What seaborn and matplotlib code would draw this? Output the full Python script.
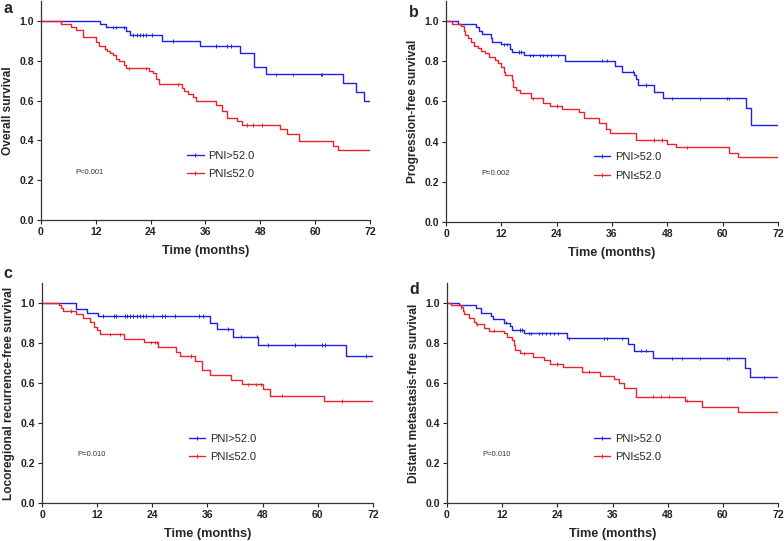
import numpy as np
import pandas as pd
import matplotlib
matplotlib.use("Agg")
import matplotlib.pyplot as plt
from matplotlib.lines import Line2D
import seaborn as sns

sns.set_style("ticks")
plt.rcParams['font.family'] = ['Liberation Sans', 'DejaVu Sans']

# ---------------- data ----------------
panel_letters = ["a", "b", "c", "d"]
ylabels = ["Overall survival", "Progression-free survival",
           "Locoregional recurrence-free survival", "Distant metastasis-free survival"]
pvalues = ["P<0.001", "P=0.002", "P=0.010", "P=0.010"]
group_labels = ["PNI>52.0", "PNI\u226452.0"]
xticks = [0, 12, 24, 36, 48, 60, 72]
yticks = [0.0, 0.2, 0.4, 0.6, 0.8, 1.0]

# Panel a: overall survival
a_hi_t = [0, 13, 14.2, 18.5, 19.5, 26.4, 34.8, 43.5, 46.7, 49.2, 66, 69, 70.6, 72]
a_hi_s = [1.0, 0.983, 0.967, 0.95, 0.93, 0.90, 0.873, 0.838, 0.769, 0.732, 0.686, 0.642, 0.597, 0.597]
a_hi_cens = [15.7, 16.4, 18.2, 20.2, 21.0, 21.7, 22.3, 23.0, 24.3, 28.9, 38.3, 40.6, 41.6,
             51.4, 55.1, 61.3, 61.6, 72]
a_lo_t = [0, 4.4, 6.6, 7.6, 9.2, 12.1, 12.6, 13.9, 14.5, 15.0, 15.8, 16.5, 17.0, 18.1, 18.7,
          23.7, 24.5, 25.1, 25.9, 30.8, 31.3, 32.2, 33.2, 34.0, 38.2, 39.6, 40.6, 42.8, 43.9,
          52.3, 53.9, 56.5, 63.8, 65.1, 72]
a_lo_s = [1.0, 0.985, 0.97, 0.955, 0.92, 0.895, 0.875, 0.86, 0.85, 0.84, 0.828, 0.81, 0.798,
          0.778, 0.762, 0.75, 0.736, 0.71, 0.681, 0.665, 0.65, 0.635, 0.62, 0.597, 0.578, 0.545,
          0.511, 0.498, 0.477, 0.458, 0.432, 0.397, 0.373, 0.352, 0.352]
a_lo_cens = [14.0, 19.3, 23.0, 30.0, 45.0, 46.4, 48.3, 72]

# Panel b: progression-free survival
b_hi_t = [0, 2.7, 6.6, 7.2, 7.7, 9.7, 10.0, 11.9, 13.9, 14.3, 16.9, 25.9, 36.6, 38.2, 40.8,
          41.2, 41.6, 45.0, 47.1, 65.0, 66.1, 72]
b_hi_s = [1.0, 0.985, 0.972, 0.952, 0.934, 0.918, 0.898, 0.884, 0.862, 0.846, 0.83, 0.803,
          0.778, 0.748, 0.73, 0.71, 0.682, 0.648, 0.615, 0.567, 0.482, 0.482]
b_hi_cens = [12.6, 13.2, 15.8, 16.3, 18.2, 18.9, 20.4, 21.0, 21.9, 22.8, 24.3, 33.8, 34.9,
             40.5, 43.4, 49.0, 55.1, 60.9, 61.4]
b_lo_t = [0, 1.2, 3.2, 3.8, 4.1, 4.8, 5.4, 6.1, 7.0, 7.5, 8.4, 9.3, 10.6, 11.3, 11.9, 12.6,
          12.9, 14.4, 14.6, 15.1, 16.0, 18.4, 21.1, 22.6, 25.2, 28.9, 29.9, 33.2, 34.6, 35.5,
          41.3, 47.9, 49.8, 61.4, 63.4, 72]
b_lo_s = [1.0, 0.988, 0.975, 0.952, 0.93, 0.914, 0.897, 0.876, 0.864, 0.852, 0.842, 0.822,
          0.806, 0.79, 0.77, 0.748, 0.731, 0.706, 0.673, 0.657, 0.643, 0.615, 0.594, 0.577,
          0.562, 0.549, 0.516, 0.494, 0.465, 0.443, 0.408, 0.388, 0.371, 0.345, 0.325, 0.325]
b_lo_cens = [18.9, 24.1, 45.1, 46.9, 52.3, 72]

# Panel c: locoregional recurrence-free survival
c_hi_t = [0, 7.4, 9.7, 12.2, 36.5, 38.1, 41.6, 47.0, 66.2, 72]
c_hi_s = [1.0, 0.968, 0.952, 0.935, 0.902, 0.87, 0.832, 0.79, 0.735, 0.735]
c_hi_cens = [13.2, 15.7, 16.2, 18.0, 18.5, 19.1, 19.8, 20.6, 21.3, 22.0, 22.6, 24.2, 26.0,
             26.7, 28.9, 34.2, 35.1, 40.5, 43.2, 46.7, 49.2, 55.0, 61.0, 61.5, 70.4]
c_lo_t = [0, 3.7, 4.1, 4.6, 7.4, 9.0, 10.4, 11.3, 12.0, 12.6, 17.8, 22.2, 25.3, 29.1, 30.0,
          33.3, 34.7, 36.5, 41.2, 43.4, 48.0, 49.7, 61.4, 72]
c_lo_s = [1.0, 0.99, 0.973, 0.96, 0.945, 0.923, 0.907, 0.882, 0.865, 0.843, 0.82, 0.803,
          0.778, 0.757, 0.735, 0.712, 0.665, 0.64, 0.615, 0.593, 0.568, 0.537, 0.51, 0.51]
c_lo_cens = [6.2, 14.8, 17.0, 23.8, 24.6, 25.1, 32.5, 44.8, 46.6, 47.7, 52.3, 65.2, 72]

# Panel d: distant metastasis-free survival
d_hi_t = [0, 2.6, 6.4, 7.5, 9.5, 10.1, 12.5, 13.8, 14.2, 16.7, 26.0, 39.3, 40.7, 44.8, 64.9,
          66.0, 72]
d_hi_s = [1.0, 0.99, 0.973, 0.952, 0.935, 0.918, 0.902, 0.885, 0.865, 0.848, 0.823, 0.795,
          0.762, 0.723, 0.673, 0.628, 0.628]
d_hi_cens = [12.8, 15.9, 16.3, 17.8, 18.3, 20.0, 20.7, 21.5, 22.4, 23.3, 24.1, 26.5, 34.1,
             34.8, 38.1, 42.1, 43.2, 49.0, 51.2, 55.0, 60.9, 61.3, 68.9]
d_lo_t = [0, 0.9, 3.0, 3.5, 3.8, 4.8, 5.9, 6.4, 8.0, 9.1, 12.4, 13.1, 14.2, 14.6, 14.9, 15.9,
          18.6, 21.1, 22.4, 25.3, 29.4, 33.3, 36.3, 37.4, 38.6, 41.2, 51.7, 55.4, 63.3, 72]
d_lo_s = [1.0, 0.99, 0.978, 0.962, 0.945, 0.923, 0.907, 0.893, 0.873, 0.862, 0.848, 0.832,
          0.815, 0.79, 0.765, 0.748, 0.732, 0.715, 0.695, 0.682, 0.657, 0.635, 0.618, 0.598,
          0.573, 0.532, 0.512, 0.482, 0.457, 0.457]
d_lo_cens = [3.0, 6.5, 10.2, 16.7, 23.9, 30.9, 44.8, 46.6, 48.3, 52.1, 72]

panels = [
    (a_hi_t, a_hi_s, a_hi_cens, a_lo_t, a_lo_s, a_lo_cens),
    (b_hi_t, b_hi_s, b_hi_cens, b_lo_t, b_lo_s, b_lo_cens),
    (c_hi_t, c_hi_s, c_hi_cens, c_lo_t, c_lo_s, c_lo_cens),
    (d_hi_t, d_hi_s, d_hi_cens, d_lo_t, d_lo_s, d_lo_cens),
]

# ---------------- style ----------------
BLUE = "#2020e6"
RED = "#e8252a"
palette = {group_labels[0]: BLUE, group_labels[1]: RED}

W, H = 784, 541
fig = plt.figure(figsize=(W / 100, H / 100), dpi=100)

# axes boxes in pixels: left, right, bottom (y=0), top (y=1.1)
boxes = [(41, 370, 220, 1), (446, 778, 222, 1), (42, 373, 503, 283), (447, 778, 503, 283)]
letter_pos = [(3, 13), (409, 17), (3, 278), (409, 294)]


def step_value(ts, ss, x):
    idx = np.searchsorted(np.asarray(ts), x, side="right") - 1
    return np.asarray(ss)[idx]


for i, (ht, hs, hc, lt, ls, lc) in enumerate(panels):
    l, r, b, t = boxes[i]
    ax = fig.add_axes([l / W, 1 - b / H, (r - l) / W, (b - t) / H])

    df = pd.concat([
        pd.DataFrame({"time": ht, "surv": hs, "group": group_labels[0]}),
        pd.DataFrame({"time": lt, "surv": ls, "group": group_labels[1]}),
    ], ignore_index=True)
    sns.lineplot(data=df, x="time", y="surv", hue="group", palette=palette,
                 estimator=None, drawstyle="steps-post", linewidth=1.0,
                 legend=False, ax=ax)

    cens = pd.concat([
        pd.DataFrame({"time": hc, "surv": step_value(ht, hs, hc), "group": group_labels[0]}),
        pd.DataFrame({"time": lc, "surv": step_value(lt, ls, lc), "group": group_labels[1]}),
    ], ignore_index=True)
    sns.scatterplot(data=cens, x="time", y="surv", hue="group", palette=palette,
                    marker="|", s=6, linewidth=0.7, legend=False, ax=ax)

    ax.set_xlim(0, 72)
    ax.set_ylim(0, 1.1)
    ax.set_xticks(xticks)
    ax.set_yticks(yticks)
    ax.set_xticklabels([str(v) for v in xticks], fontsize=7.5, fontweight="bold")
    ax.set_yticklabels([f"{v:.1f}" for v in yticks], fontsize=7.5, fontweight="bold")
    ax.tick_params(direction="out", length=3, width=0.8, pad=2, colors="#222222")
    for sp in ["top", "right"]:
        ax.spines[sp].set_visible(False)
    for sp in ["left", "bottom"]:
        ax.spines[sp].set_linewidth(0.9)
        ax.spines[sp].set_color("#333333")
    ax.margins(x=0)

    ax.set_xlabel("Time (months)", fontsize=9.2, fontweight="bold", labelpad=6)
    ax.set_ylabel(ylabels[i], fontsize=8.6, fontweight="bold", labelpad=4)

    ax.text(7.6, 0.24, pvalues[i], fontsize=5.5, color="#333333", va="center", ha="left")

    handles = [Line2D([], [], color=BLUE, lw=1.0, marker="|", markersize=3, markeredgewidth=0.7),
               Line2D([], [], color=RED, lw=1.0, marker="|", markersize=3, markeredgewidth=0.7)]
    ax.legend(handles, group_labels, loc="upper left", bbox_to_anchor=(0.445, 0.315),
              frameon=False, fontsize=8, handlelength=1.45, handletextpad=0.45,
              labelspacing=0.75, borderpad=0, borderaxespad=0, numpoints=1)

    fig.text(letter_pos[i][0] / W, 1 - letter_pos[i][1] / H, panel_letters[i],
             fontsize=11.5, fontweight="bold", va="baseline", ha="left")

fig.savefig("out.png", dpi=100)
